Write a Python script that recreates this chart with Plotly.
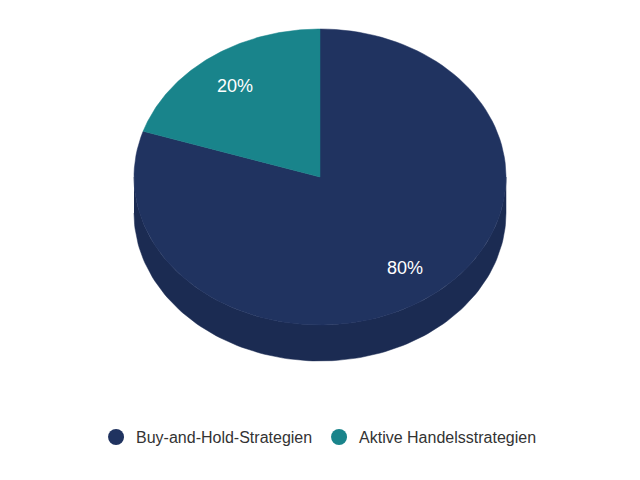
import numpy as np
import plotly.graph_objects as go

# Data
labels = ["Buy-and-Hold-Strategien", "Aktive Handelsstrategien"]
values = [80, 20]
colors = ["#203360", "#19848b"]
side_colors = ["#1b2b52", "#146a70"]

# Pie geometry (in pixel-like axis units)
cx, cy = 320, 177
rx, ry = 186, 148
depth = 36
start = 90  # degrees, slices run clockwise from the top
off = 8     # page body margin

total = sum(values)
angles = []
a = start
for v in values:
    sweep = 360 * v / total
    angles.append((a - sweep, a))
    a -= sweep


def arc(a0, a1, n=120, dy=0):
    t = np.radians(np.linspace(a0, a1, n))
    return cx + rx * np.cos(t), cy - ry * np.sin(t) + dy


fig = go.Figure()

# side walls (only the front half)
for (a0, a1), sc in zip(angles, side_colors):
    for shift in (-360, 0, 360):
        lo, hi = max(a0 + shift, -180), min(a1 + shift, 0)
        if hi > lo:
            xt, yt = arc(lo, hi)
            xb, yb = arc(hi, lo, dy=depth)
            fig.add_trace(go.Scatter(
                x=np.concatenate([xt, xb]), y=np.concatenate([yt, yb]),
                fill="toself", fillcolor=sc, mode="lines",
                line=dict(color=sc, width=0.5), hoverinfo="skip",
                showlegend=False))

# top faces
for (a0, a1), c in zip(angles, colors):
    xa, ya = arc(a0, a1)
    fig.add_trace(go.Scatter(
        x=np.concatenate([[cx], xa, [cx]]), y=np.concatenate([[cy], ya, [cy]]),
        fill="toself", fillcolor=c, mode="lines",
        line=dict(color=c, width=0.5), hoverinfo="skip", showlegend=False))

# data labels
for (a0, a1), v in zip(angles, values):
    mid = np.radians((a0 + a1) / 2)
    fig.add_annotation(
        x=cx + 0.78 * rx * np.cos(mid), y=cy - 0.76 * ry * np.sin(mid),
        text=f"{v}%", showarrow=False,
        font=dict(family="Liberation Sans, Arial", size=18, color="white"))

# legend entries
for lab, c in zip(labels, colors):
    fig.add_trace(go.Scatter(
        x=[None], y=[None], mode="markers", name=lab,
        marker=dict(symbol="circle", size=16, color=c)))

fig.update_layout(
    width=640, height=480,
    margin=dict(l=0, r=0, t=0, b=0),
    paper_bgcolor="white", plot_bgcolor="white",
    xaxis=dict(range=[off, 640 + off], visible=False, fixedrange=True),
    yaxis=dict(range=[480 + off, off], visible=False, fixedrange=True),
    font=dict(family="Liberation Sans, Arial", size=16, color="#333333"),
    legend=dict(orientation="h", x=0.486, xanchor="center", y=0.106,
                yanchor="middle", font=dict(size=16, color="#333333"),
                itemwidth=30, entrywidth=178, entrywidthmode="pixels"),
)

fig.write_html("out.html")
